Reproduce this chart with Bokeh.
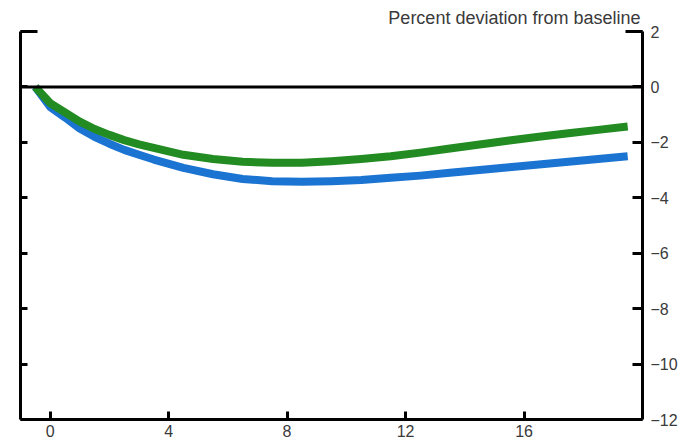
from bokeh.plotting import figure
from bokeh.models import Range1d, LinearAxis, FixedTicker, Span
from bokeh.embed import file_html
from bokeh.resources import INLINE

# Quarters after the shock
quarters = [-0.5, 0.0, 0.5, 1.0, 1.5, 2.0, 2.5, 3.0, 3.5, 4.5, 5.5, 6.5, 7.5, 8.5, 9.5,
            10.5, 11.5, 12.5, 13.5, 14.5, 15.5, 16.5, 17.5, 18.5, 19.5]

# Foreign GDP, percent deviation from baseline
blue_series = [0.0, -0.72, -1.10, -1.50, -1.80, -2.05, -2.27, -2.45, -2.62, -2.92, -3.15,
               -3.32, -3.40, -3.42, -3.40, -3.36, -3.28, -3.20, -3.10, -3.00, -2.90,
               -2.80, -2.70, -2.60, -2.50]
green_series = [0.0, -0.58, -0.92, -1.25, -1.52, -1.73, -1.92, -2.07, -2.20, -2.45, -2.60,
                -2.70, -2.74, -2.74, -2.68, -2.60, -2.50, -2.37, -2.22, -2.08, -1.93,
                -1.80, -1.67, -1.55, -1.43]

x_ticks = [0, 4, 8, 12, 16]
y_ticks = [2, 0, -2, -4, -6, -8, -10, -12]

FONT = "Liberation Sans"
TEXT_COLOR = "#3a3a3a"
BLUE = "#1b74d1"
GREEN = "#228b22"

p = figure(width=689, height=442, output_backend="svg", toolbar_location=None,
           x_range=Range1d(-1, 20), y_range=Range1d(-12, 2),
           x_axis_location=None, y_axis_location=None,
           min_border_left=20, min_border_right=47,
           min_border_top=31, min_border_bottom=23,
           outline_line_color=None,
           background_fill_color="white", border_fill_color="white")
p.grid.visible = False

# unit label above the right end of the frame
p.title.text = "Percent deviation from baseline"
p.title.align = "right"
p.title.text_font = FONT
p.title.text_font_size = "18px"
p.title.text_font_style = "normal"
p.title.text_color = TEXT_COLOR
p.title.standoff = 8
p.title.offset = 2


def style_axis(ax, tick_in, standoff=5):
    ax.axis_line_color = "black"
    ax.axis_line_width = 3
    ax.major_tick_line_color = "black"
    ax.major_tick_line_width = 3
    ax.major_tick_in = tick_in
    ax.major_tick_out = 0
    ax.minor_tick_line_color = None
    ax.major_label_standoff = standoff
    ax.major_label_text_font = FONT
    ax.major_label_text_color = TEXT_COLOR
    ax.major_label_text_font_size = "16px"


bottom = LinearAxis(ticker=FixedTicker(ticks=x_ticks))
style_axis(bottom, 8, standoff=5)
p.add_layout(bottom, "below")

# left edge carries tick marks only
left = LinearAxis(ticker=FixedTicker(ticks=y_ticks))
style_axis(left, 7)
left.major_label_overrides = {t: "" for t in y_ticks}
p.add_layout(left, "left")

right = LinearAxis(ticker=FixedTicker(ticks=y_ticks))
style_axis(right, 10, standoff=8)
p.add_layout(right, "right")

# top edge: only short corner stubs
top = LinearAxis(ticker=FixedTicker(ticks=[]))
style_axis(top, 0, standoff=0)
top.axis_line_dash = "17 588"
p.add_layout(top, "above")

p.add_layout(Span(location=0, dimension="width", line_color="black", line_width=3))

p.line(quarters, blue_series, line_color=BLUE, line_width=8, line_cap="butt", line_join="round")
p.line(quarters, green_series, line_color=GREEN, line_width=8, line_cap="butt", line_join="round")

open("out.html", "w").write(file_html(p, INLINE))
